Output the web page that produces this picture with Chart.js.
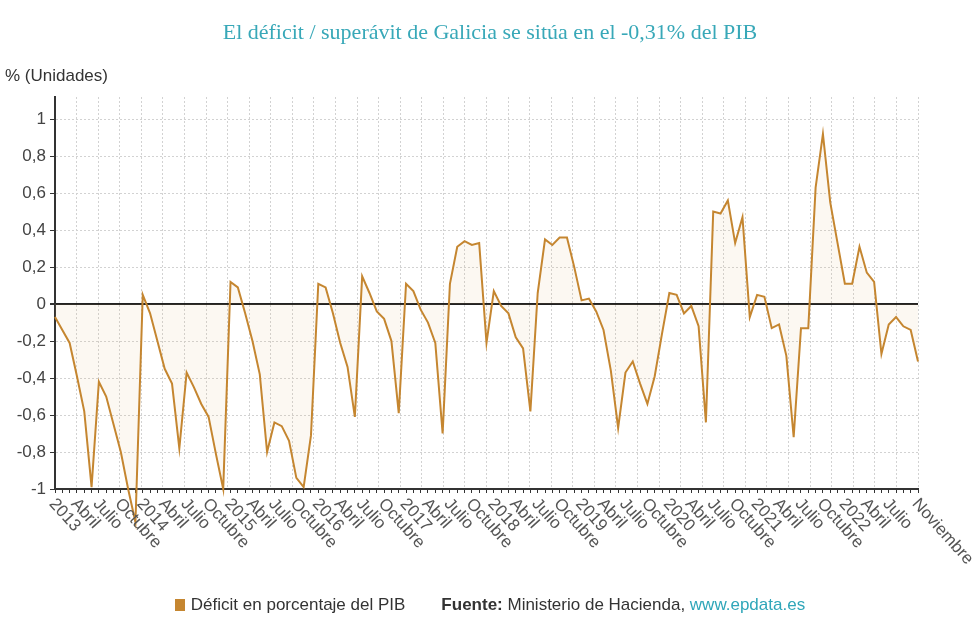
<!DOCTYPE html>
<html lang="es">

<head>
    <meta charset="UTF-8">
    <meta name="viewport" content="width=device-width, initial-scale=1.0">
    <title>Déficit / superávit de Galicia</title>
    <script src="https://cdn.jsdelivr.net/npm/chart.js"></script>
    <style>
        body {
            margin: 0;
            padding: 0;
            background-color: #fff;
            font-family: "Liberation Sans", Arial, sans-serif;
            color: #333;
        }

        .page {
            position: relative;
            width: 980px;
            height: 630px;
            overflow: hidden;
        }

        .chart-container {
            position: absolute;
            left: 0;
            top: 0;
            width: 980px;
            height: 630px;
        }

        .title {
            position: absolute;
            top: 19px;
            left: 0;
            width: 980px;
            text-align: center;
            font-family: "Liberation Serif", "Times New Roman", serif;
            font-size: 22px;
            color: #38a8b8;
        }

        .unit {
            position: absolute;
            left: 5px;
            top: 66px;
            font-size: 17px;
            color: #333;
        }

        .footer {
            position: absolute;
            top: 595px;
            left: 0;
            width: 980px;
            text-align: center;
            font-size: 17px;
            color: #333;
        }

        .swatch {
            display: inline-block;
            width: 10px;
            height: 12px;
            background-color: #c58630;
            margin-right: 6px;
            vertical-align: -1px;
        }

        .source {
            margin-left: 36px;
        }

        .source a {
            color: #2fa6b9;
            text-decoration: none;
        }
    </style>
</head>

<body>
    <div class="page">
        <div class="chart-container">
            <canvas id="deficitChart"></canvas>
        </div>
        <div class="title">El déficit / superávit de Galicia se sitúa en el -0,31% del PIB</div>
        <div class="unit">% (Unidades)</div>
        <div class="footer">
            <span class="swatch"></span>Déficit en porcentaje del PIB<span class="source"><b>Fuente:</b> Ministerio de Hacienda, <a href="#">www.epdata.es</a></span>
        </div>
    </div>

    <script>
        // Monthly deficit (% of GDP)
        const years = [2013, 2014, 2015, 2016, 2017, 2018, 2019, 2020, 2021, 2022];
        const monthNames = ['Enero', 'Febrero', 'Marzo', 'Abril', 'Mayo', 'Junio', 'Julio',
            'Agosto', 'Septiembre', 'Octubre', 'Noviembre', 'Diciembre'];

        const d2013 = [-0.07, -0.14, -0.21, -0.39, -0.58, -0.99, -0.42, -0.50, -0.65, -0.80, -1.00, -1.18];
        const d2014 = [0.05, -0.05, -0.20, -0.35, -0.43, -0.78, -0.37, -0.45, -0.54, -0.61, -0.81, -1.00];
        const d2015 = [0.12, 0.09, -0.05, -0.20, -0.38, -0.80, -0.64, -0.66, -0.74, -0.94, -0.99, -0.71];
        const d2016 = [0.11, 0.09, -0.05, -0.21, -0.34, -0.61, 0.15, 0.06, -0.04, -0.08, -0.20, -0.59];
        const d2017 = [0.11, 0.07, -0.03, -0.10, -0.21, -0.70, 0.11, 0.31, 0.34, 0.32, 0.33, -0.21];
        const d2018 = [0.07, -0.01, -0.05, -0.18, -0.24, -0.58, 0.06, 0.35, 0.32, 0.36, 0.36, 0.20];
        const d2019 = [0.02, 0.03, -0.04, -0.14, -0.36, -0.67, -0.37, -0.31, -0.43, -0.54, -0.39, -0.16];
        const d2020 = [0.06, 0.05, -0.05, -0.01, -0.12, -0.64, 0.50, 0.49, 0.56, 0.33, 0.47, -0.07];
        const d2021 = [0.05, 0.04, -0.13, -0.11, -0.28, -0.72, -0.13, -0.13, 0.63, 0.92, 0.55, 0.33];
        const d2022 = [0.11, 0.11, 0.31, 0.17, 0.12, -0.27, -0.11, -0.07, -0.12, -0.14, -0.31];

        const yTicks = [-1, -0.8, -0.6, -0.4, -0.2, 0, 0.2, 0.4, 0.6, 0.8, 1];
        const quarterMonths = ['Abril', 'Julio', 'Octubre'];

        const values = [].concat(d2013, d2014, d2015, d2016, d2017, d2018, d2019, d2020, d2021, d2022);
        const categories = values.map((v, i) => monthNames[i % 12] + ' ' + years[Math.floor(i / 12)]);

        // Year at January, quarter months, and the last month; skip labels crowding the last one
        const lastIndex = values.length - 1;
        const tickLabels = values.map((v, i) => {
            if (i === lastIndex) return monthNames[i % 12];
            if (lastIndex - i < 3) return '';
            if (i % 12 === 0) return String(years[i / 12]);
            return quarterMonths.includes(monthNames[i % 12]) ? monthNames[i % 12] : '';
        });

        const fmt = v => String(Math.round(v * 10) / 10).replace('.', ',');

        // Draws the x labels rotated clockwise, reading downwards from each tick
        const slantedLabels = {
            id: 'slantedLabels',
            afterDraw(chart) {
                const scale = chart.scales.x;
                const ctx = chart.ctx;
                ctx.save();
                ctx.font = '17px "Liberation Sans", Arial, sans-serif';
                ctx.fillStyle = '#555';
                ctx.textAlign = 'left';
                ctx.textBaseline = 'middle';
                tickLabels.forEach((label, i) => {
                    if (!label) return;
                    const px = scale.getPixelForValue(i);
                    ctx.save();
                    ctx.translate(px - 3, scale.bottom + 8);
                    ctx.rotate(48 * Math.PI / 180);
                    ctx.fillText(label, 0, 0);
                    ctx.restore();
                });
                ctx.restore();
            }
        };

        const ctx = document.getElementById('deficitChart').getContext('2d');
        new Chart(ctx, {
            type: 'line',
            data: {
                labels: categories,
                datasets: [{
                    label: 'Déficit en porcentaje del PIB',
                    data: values,
                    borderColor: '#c58630',
                    backgroundColor: 'rgba(225, 175, 115, 0.09)',
                    borderWidth: 2,
                    pointRadius: 0,
                    tension: 0,
                    fill: 'origin',
                    clip: false
                }]
            },
            options: {
                responsive: true,
                maintainAspectRatio: false,
                animation: false,
                layout: {
                    padding: { top: 97, right: 62, bottom: 137, left: 0 }
                },
                plugins: {
                    legend: { display: false },
                    title: { display: false },
                    tooltip: { enabled: false }
                },
                scales: {
                    x: {
                        type: 'category',
                        offset: false,
                        ticks: { display: false, autoSkip: false },
                        grid: {
                            drawOnChartArea: false,
                            drawTicks: true,
                            tickLength: 4,
                            tickColor: '#333'
                        },
                        border: { color: '#333', width: 2 },
                        afterFit: scale => { scale.height = 4; }
                    },
                    // quarterly vertical grid, evenly spaced across the plot
                    xGrid: {
                        type: 'linear',
                        position: 'top',
                        min: 0,
                        max: 40,
                        ticks: { display: false, stepSize: 1 },
                        grid: { color: '#d2d2d2', drawTicks: false },
                        border: { display: false, dash: [2, 2] },
                        afterFit: scale => { scale.height = 0; }
                    },
                    y: {
                        min: -1,
                        max: 1.12,
                        afterBuildTicks: scale => {
                            scale.ticks = yTicks.map(v => ({ value: v }));
                        },
                        ticks: {
                            callback: v => fmt(v),
                            font: { family: '"Liberation Sans", Arial, sans-serif', size: 17 },
                            color: '#444',
                            padding: 4
                        },
                        grid: {
                            color: c => (c.tick && c.tick.value === 0) ? '#222' : '#d2d2d2',
                            lineWidth: c => (c.tick && c.tick.value === 0) ? 2 : 1,
                            tickLength: 5,
                            tickColor: '#333'
                        },
                        border: {
                            color: '#333',
                            width: 2,
                            dash: c => (c.tick && c.tick.value === 0) ? [] : [2, 2]
                        },
                        afterFit: scale => { scale.width = 55; }
                    }
                }
            },
            plugins: [slantedLabels]
        });
    </script>
</body>

</html>
